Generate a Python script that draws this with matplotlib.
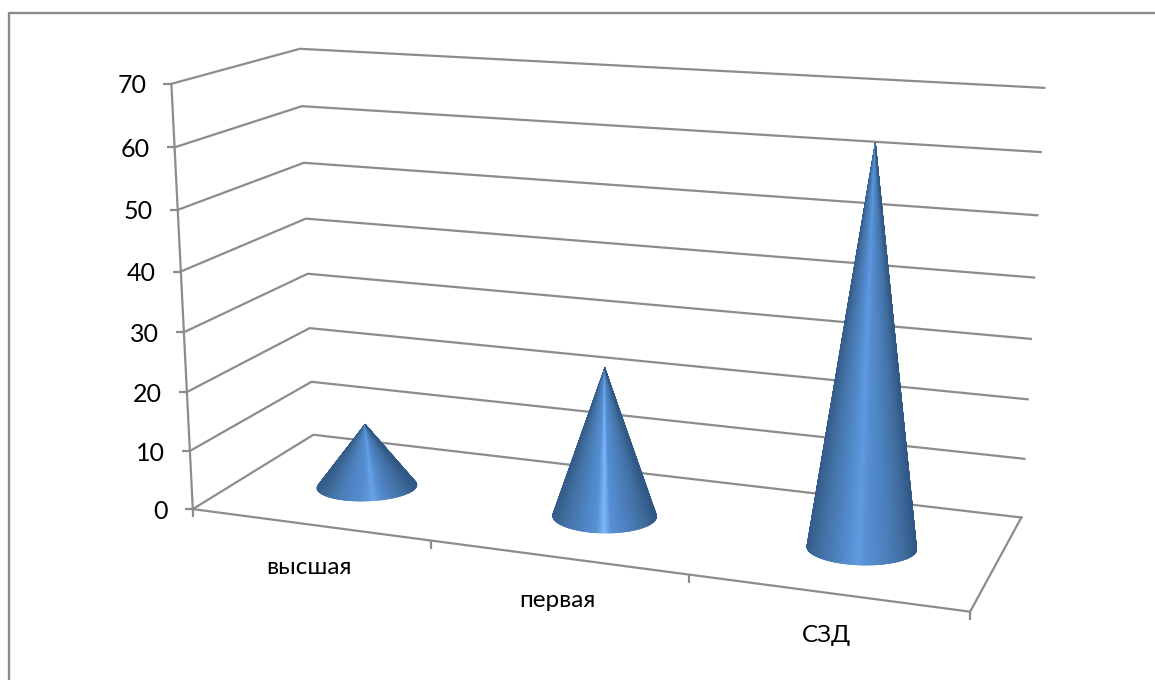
import numpy as np
import matplotlib
matplotlib.use("Agg")
import matplotlib.pyplot as plt
from matplotlib.collections import PolyCollection
from matplotlib.colors import LinearSegmentedColormap

plt.rcParams['font.family'] = ['Lato', 'Open Sans', 'DejaVu Sans']

categories = ['высшая', 'первая', 'СЗД']
values = [11, 25, 64]
y_ticks = [0, 10, 20, 30, 40, 50, 60, 70]

# screen-space styling of the cones
base_rx = [50, 52, 55]
base_ry = [14.5, 17, 17]
base_tilt = [-2.0, 0.5, 1.5]
highlight = [-0.12, 0.0, 0.05]
bright = ['#68a2e6', '#7db6fc', '#5f9ae0']
GRID = '#8c8c8c'

# calibration of the perspective: (category, value, depth) -> pixel
cal3d = np.array([[0, 0, 0], [3, 0, 0], [0, 0, 1], [3, 0, 1], [0, 70, 0], [0, 70, 1], [3, 70, 1],
                  [0, 60, 0], [0, 60, 1], [3, 60, 1], [3, 10, 1], [0, 10, 0]], float)
cal2d = np.array([[193, 509], [970, 612], [313, 435], [1021, 517], [170.7, 84], [300, 49], [1044, 88],
                  [175, 147], [302, 106], [1041, 152], [1025, 459], [190, 451]], float)
A, b = [], []
for (X, Y, Z), (px, py) in zip(cal3d, cal2d):
    A.append([X, Y, Z, 1, 0, 0, 0, 0, -px*X, -px*Y, -px*Z]); b.append(px)
    A.append([0, 0, 0, 0, X, Y, Z, 1, -py*X, -py*Y, -py*Z]); b.append(py)
p = np.linalg.lstsq(np.array(A), np.array(b), rcond=None)[0]
P = np.append(p, 1).reshape(3, 4)


def proj(u, v, w):
    q = P @ np.array([u, v, w, 1.0])
    return q[0]/q[2], q[1]/q[2]


fig = plt.figure(figsize=(11.55, 6.8), dpi=100, facecolor='white')
ax = fig.add_axes([0, 0, 1, 1])
ax.set_xlim(0, 1155)
ax.set_ylim(680, 0)
ax.axis('off')

def seg(a, b, lw=1.6):
    ax.plot([a[0], b[0]], [a[1], b[1]], color=GRID, lw=lw, solid_capstyle='butt', zorder=1)

# chart frame
ax.plot([9, 9, 1160], [690, 13, 13], color=GRID, lw=1.7, zorder=1)

n = len(categories)
for v in y_ticks:
    f, bk, r = proj(0, v, 0), proj(0, v, 1), proj(n, v, 1)
    ax.plot([f[0], bk[0], r[0]], [f[1], bk[1], r[1]], color=GRID, lw=1.6, zorder=1)
    seg((f[0]-8, f[1]), f)
    ax.text(f[0]-25, f[1]+2, str(v), ha='right', va='center', fontsize=18, color='black')
seg(proj(0, 0, 0), proj(0, 70, 0))
c = [proj(0, 0, 0), proj(n, 0, 0), proj(n, 0, 1)]
ax.plot(*zip(*c), color=GRID, lw=1.6, zorder=1)
for i in range(n+1):
    t = proj(i, 0, 0)
    seg(t, (t[0], t[1]+8))
for i, name in enumerate(categories):
    t = proj(i+0.5, 0, 0)
    ax.text(t[0], t[1]+43, name, ha='center', va='center', fontsize=17.5, color='black')

# cones
for i, val in enumerate(values):
    cx, cy = proj(i+0.51, 0, 0.47)
    ax_, ay_ = proj(i+0.51, val, 0.47)
    rx, ry = base_rx[i], base_ry[i]
    h = cy-ay_
    t0 = np.arcsin(ry/h)
    ts = np.linspace(np.pi-t0, 2*np.pi+t0, 241)
    ex, ey = rx*np.cos(ts), -ry*np.sin(ts)
    a = np.radians(base_tilt[i])
    X = cx+ex*np.cos(a)-ey*np.sin(a)
    Y = cy+ex*np.sin(a)+ey*np.cos(a)
    hl = 0.5+highlight[i]*0.5
    cmap = LinearSegmentedColormap.from_list('c', [(0, '#2f5885'), (0.1, '#3f6c9d'), (0.28, '#4c80bd'),
                                                   (hl-0.06, '#5590d4'), (hl, bright[i]), (hl+0.08, '#5590d4'),
                                                   (0.74, '#4c80bd'), (0.9, '#406e9f'), (1, '#335c8a')])
    polys = [[(ax_, ay_), (X[k], Y[k]), (X[k+1], Y[k+1])] for k in range(len(ts)-1)]
    s = (np.cos(ts[:-1])*-1+1)/2
    cols = cmap(s)
    pc = PolyCollection(polys, facecolors=cols, edgecolors=cols, linewidths=0.4, zorder=3)
    ax.add_collection(pc)

fig.savefig('out.png', dpi=100)
